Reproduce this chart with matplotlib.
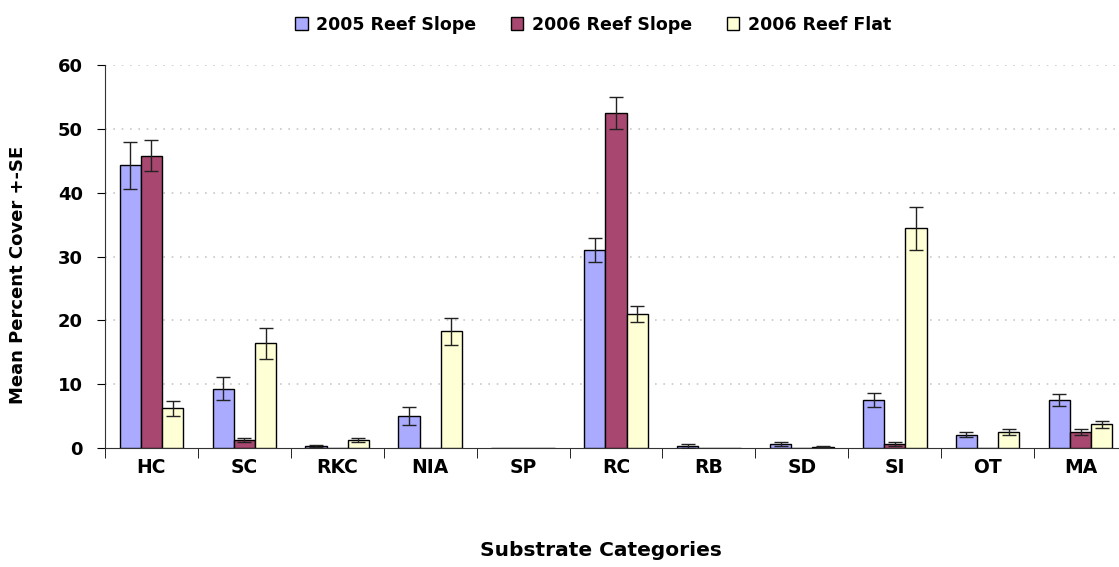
import numpy as np
import matplotlib
matplotlib.use('Agg')
import matplotlib.pyplot as plt

categories = ['HC', 'SC', 'RKC', 'NIA', 'SP', 'RC', 'RB', 'SD', 'SI', 'OT', 'MA']
series = ['2005 Reef Slope', '2006 Reef Slope', '2006 Reef Flat']

slope_2005 = [44.3, 9.3, 0.3, 5.0, 0.0, 31.0, 0.3, 0.6, 7.5, 2.1, 7.5]
slope_2005_se = [3.7, 1.8, 0.1, 1.4, 0.0, 1.9, 0.3, 0.3, 1.1, 0.4, 0.9]
slope_2006 = [45.8, 1.2, 0.0, 0.0, 0.0, 52.5, 0.0, 0.0, 0.6, 0.0, 2.5]
slope_2006_se = [2.45, 0.3, 0.0, 0.0, 0.0, 2.5, 0.0, 0.0, 0.3, 0.0, 0.5]
flat_2006 = [6.2, 16.4, 1.2, 18.3, 0.0, 21.0, 0.0, 0.2, 34.4, 2.5, 3.7]
flat_2006_se = [1.2, 2.4, 0.3, 2.1, 0.0, 1.2, 0.0, 0.1, 3.4, 0.5, 0.6]

colors = ['#AAAAFF', '#A8476F', '#FFFFD6']

plt.rcParams['font.family'] = 'DejaVu Sans'
plt.rcParams['font.weight'] = 'bold'
plt.rcParams['axes.labelweight'] = 'bold'

fig = plt.figure(figsize=(11.19, 5.67), dpi=100)
ax = fig.add_axes([105 / 1119, 119 / 567, 1022 / 1119, 383 / 567])

x = np.arange(len(categories))
w = 0.228
data = [(slope_2005, slope_2005_se), (slope_2006, slope_2006_se), (flat_2006, flat_2006_se)]
for i, (vals, se) in enumerate(data):
    pos = x + (i - 1) * w
    ax.bar(pos, vals, width=w, color=colors[i], edgecolor='black', linewidth=1.0,
           label=series[i], zorder=3)
    vals = np.array(vals)
    se = np.array(se)
    m = se > 0
    ax.errorbar(pos[m], vals[m], yerr=se[m], fmt='none', ecolor='#222222',
                elinewidth=1.0, capsize=5, capthick=1.0, zorder=4)

ax.set_xlim(-0.5, len(categories) - 0.5)
ax.set_ylim(0, 60)
ax.set_yticks(range(0, 61, 10))
ax.tick_params(axis='y', labelsize=13, length=6, direction='out', pad=10)
ax.set_xticks(x)
ax.set_xticklabels(categories)
ax.set_xticks(np.arange(-0.5, len(categories), 1), minor=True)
ax.tick_params(axis='x', which='major', length=0, labelsize=13.5, pad=7)
ax.tick_params(axis='x', which='minor', length=7, direction='out')
for v in range(10, 61, 10):
    ax.axhline(v, color='#C8C8C8', linestyle=(0, (1, 4)), linewidth=1.2, zorder=1)

ax.spines['top'].set_visible(False)
ax.spines['right'].set_visible(False)
ax.spines['left'].set_color('#333333')
ax.spines['bottom'].set_color('#333333')

ax.set_ylabel('Mean Percent Cover +-SE', fontsize=13)
ax.yaxis.set_label_coords(-0.0763, 0.452)
ax.set_xlabel('Substrate Categories', fontsize=14.5)
ax.xaxis.set_label_coords(0.485, -0.243)

fig.legend(loc='upper center', bbox_to_anchor=(0.53, 1.0), ncol=3, frameon=False,
           fontsize=12.5, handlelength=0.7, handleheight=0.7, handletextpad=0.5,
           columnspacing=2.0)

plt.savefig('out.png', dpi=100)
